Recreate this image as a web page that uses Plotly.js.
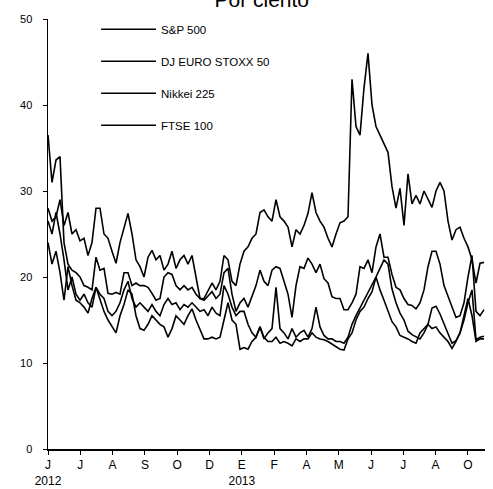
<!DOCTYPE html>
<html>
<head>
<meta charset="utf-8">
<script src="https://cdn.plot.ly/plotly-3.0.1.min.js"></script>
<style>html,body{margin:0;padding:0;background:#fff;}#chart{width:493px;height:489px;}</style>
</head>
<body>
<div id="chart"></div>
<script>
// Tick labels (month initials as printed on the original axis)
const tickLabels = ["J<br>2012","J","A","S","O","D","E<br>2013","F","A","M","J","J","A","O"];
const seriesNames = ["S&P 500","DJ EURO STOXX 50","Nikkei 225","FTSE 100"];

// Volatility indices, per cent (at regular intervals)
const sp500 = [26.5,25,27.5,25,22,18.5,20,18,17.3,18,17,16.5,18.8,18,17.5,16,15.5,16,17,18.5,19.5,17.5,16.5,17,16.5,16,16.8,16,15.5,16.8,17.5,16.8,17,16.2,16.8,16.5,17,16.5,16,16.2,15.5,16.5,15.8,15.5,19,18,16.5,15.5,16,16,14.5,13.5,13,14.2,12.8,13.5,14,18.8,14,13.5,12.8,14,13,13.5,13.8,13,14,16.5,14.2,13.2,12.8,12.8,12.5,12.5,12.3,13,14.5,15.5,16.4,17.2,18.1,19,20,21,22,21.5,18.6,17,15.8,15,13.7,13.3,13,12.8,13.5,14.5,16.4,16.6,15.7,14.5,13.3,12.3,12.6,13.5,15,17,18.5,12.7,13,13.1];

const euroStoxx = [36.5,31,33.6,34,24,21.5,20.8,20.5,20,19,18.8,18.5,22.3,20.8,21,18.1,18,18.2,18,20.5,20.5,19,19.3,19,19,18.8,18.1,17.3,17.5,20,20.5,20.3,19,18.5,19,18.5,18.8,18,17.5,17.3,17.8,18.3,17.5,18,20.5,21,18,16,17,17.5,16.5,17.7,19,20.8,19.5,19,20.8,21.2,21,19.5,18,15.3,19,21.2,21,22.2,21.5,20.5,21.5,19.8,19.3,17.7,17.5,17.5,16.2,16.2,17,18,21.2,21,22,20.5,23.5,25,22.3,22.3,20.3,18.8,18.5,17.5,16.8,16.7,16.3,17,18.5,21.2,23,23,21.5,19,17.7,16.4,15.3,15.5,17,20,22.5,16,15.5,16.2];

const nikkei = [28,26.5,27,29,26,27.5,25,25.5,24.2,24.5,22.5,24,28,28,25,24.5,23,21.6,24,25.8,27.4,25,22,21.2,20,22.3,23.1,22,22.5,20.8,21.5,23,21,22,22.5,21.5,22.5,20,17.5,17.5,18.5,19.3,18.5,19.5,22.5,22,19.5,19,21.5,23,23.5,24.5,25,27.5,27.8,27,26.5,29,27,26.5,25.8,23.5,25.5,25,26,27.4,29.8,27.5,26.5,25.8,24.5,23.5,25,26.3,26.5,27,43,37.5,36.5,42,46,40,37.5,36.5,35.5,34.5,30.5,28,30.3,26,32,28.5,29.5,28.5,30,29,28.1,30,31,30,26.5,24.3,25.5,25.8,24.5,23.5,22,19.3,21.6,21.7];

const ftse = [24,21.5,23,20.5,17.3,21.2,19,17.3,17,16.5,15.8,17.5,18.8,17.5,16,15,14.2,13.5,15.5,16.8,18.5,18,15.5,14,13.8,14.5,15.5,15,14.5,14.2,13,14,15.5,15,14.5,15.5,16.3,15,14,12.8,12.8,13,12.8,13,15,17,15,14.5,11.6,11.8,11.6,12.5,13,14.2,13,12.5,12.5,13,12.3,12.5,12.3,12,12.8,12.5,12.8,12.8,13.5,13,12.8,12.7,12.5,12.2,11.8,11.6,11.5,12.8,13.5,15,16,16.5,17.5,18.3,20,18.5,17.3,16,14.8,14.2,13.2,13,12.8,12.5,12.3,13.5,14,14.5,14,14.2,13.5,13,12.5,11.7,12.5,13.5,15.5,17.5,15.5,12.5,12.8,12.8];

// observation index; each month tick on the axis spans 8.075 observations
const obs = sp500.map((_, i) => i);
const obsPerTick = 8.075;
const tickVals = tickLabels.map((_, i) => i * obsPerTick);

const allSeries = [sp500, euroStoxx, nikkei, ftse];
const traces = allSeries.map((vals, i) => ({
  x: obs, y: vals, type: "scatter", mode: "lines", name: seriesNames[i],
  legendgroup: "g" + i,
  line: {color: "#000", width: 1.6}
}));

const font = "Arial, 'Liberation Sans', sans-serif";
const layout = {
  width: 493, height: 489,
  margin: {l: 48, r: 8, t: 19, b: 40},
  paper_bgcolor: "#fff", plot_bgcolor: "#fff",
  font: {family: font, color: "#000", size: 11},
  title: {text: "Por ciento", font: {family: font, size: 21, color: "#000"},
          x: 0.531, xanchor: "center", y: 1.0, yanchor: "middle", yref: "container"},
  showlegend: true,
  legend: {x: 0.11, y: 1.01, xanchor: "left", yanchor: "top", bgcolor: "rgba(0,0,0,0)",
           font: {family: font, size: 11.5, color: "#000"}, tracegroupgap: 13, itemwidth: 55,
           traceorder: "grouped"},
  xaxis: {range: [0, 109.25], showgrid: false, zeroline: false, showline: true, linecolor: "#000", linewidth: 1.5,
          ticks: "outside", ticklen: 4, tickcolor: "#000", tickvals: tickVals, ticktext: tickLabels,
          tickfont: {family: font, size: 12, color: "#000"}, fixedrange: true},
  yaxis: {range: [0, 50], showgrid: false, zeroline: false, showline: true, linecolor: "#000", linewidth: 1.5,
          ticks: "outside", ticklen: 4, tickcolor: "#000", tickvals: [0,10,20,30,40,50],
          tickfont: {family: font, size: 11, color: "#000"}, ticklabelstandoff: 8, fixedrange: true}
};
Plotly.newPlot("chart", traces, layout, {staticPlot: true, displayModeBar: false});
</script>
</body>
</html>
